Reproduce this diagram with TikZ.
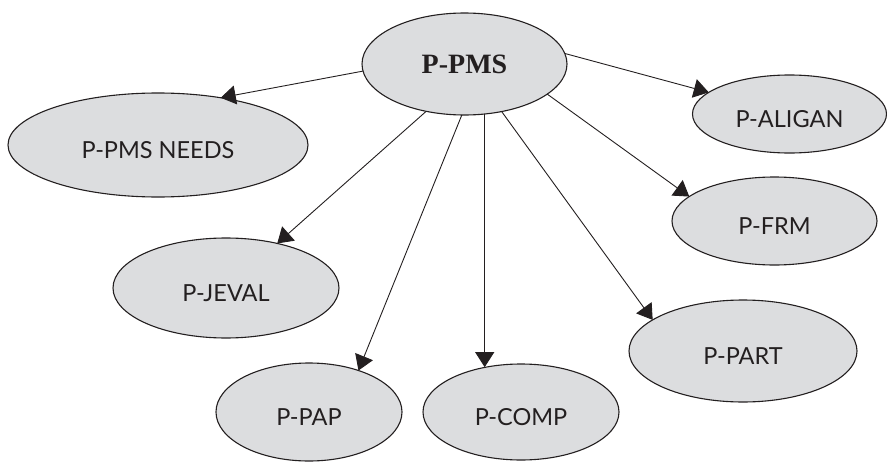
\documentclass[tikz,border=0pt]{standalone}
\usepackage{fontspec}
\newfontfamily\labelfont{Lato}
\newfontfamily\titlefont{Liberation Serif}
\usetikzlibrary{shapes.geometric,arrows.meta}
\definecolor{bubblefill}{HTML}{DCDDDF}
\definecolor{ink}{HTML}{231F20}

\begin{document}
\begin{tikzpicture}[x=1pt,y=-1pt,
  bubble/.style={ellipse, draw=ink, fill=bubblefill, line width=1.1pt,
    inner sep=0pt, outer sep=0pt, text=ink},
  dims/.style 2 args={minimum width=#1pt, minimum height=#2pt},
  sub/.style={bubble, font=\labelfont\fontsize{23.5}{24}\selectfont,
    text height=27pt, text depth=0pt},
  root/.style={bubble, font=\titlefont\bfseries\fontsize{28}{28}\selectfont},
  link/.style={draw=ink, line width=0.9pt,
    -{Triangle[length=15pt,width=19pt]}}]
  \useasboundingbox (0,0) rectangle (887,463);

  % central process
  \node[root, dims={205}{102}] (pms) at (464.5,64) {P-PMS};

  % sub-processes
  \node[sub, dims={300}{104}] (needs)  at (158,145)   {P-PMS NEEDS};
  \node[sub, dims={194}{78}]  (aligan) at (789.5,114) {P-ALIGAN};
  \node[sub, dims={205}{88}]  (frm)    at (774.5,221) {P-FRM};
  \node[sub, dims={226}{100}] (jeval)  at (226,288)   {P-JEVAL};
  \node[sub, dims={228}{102}] (part)   at (743,351)   {P-PART};
  \node[sub, dims={186}{98}]  (pap)    at (309,412)   {P-PAP};
  \node[sub, dims={196}{96}]  (comp)   at (521,412)   {P-COMP};

  % links from the central process
  \draw[link] (pms.184.5) -- (needs.37.7);
  \draw[link] (pms.6)     -- (aligan.165.2);
  \draw[link] (pms.340.8) -- (frm.164.7);
  \draw[link] (pms.308.7) -- (part.161.9);
  \draw[link] (pms.292)   -- (pms.292 |- comp.128);
  \draw[link] (pms.267.2) -- (pap.40.8);
  \draw[link] (pms.231.1) -- (jeval.41.4);
\end{tikzpicture}
\end{document}
